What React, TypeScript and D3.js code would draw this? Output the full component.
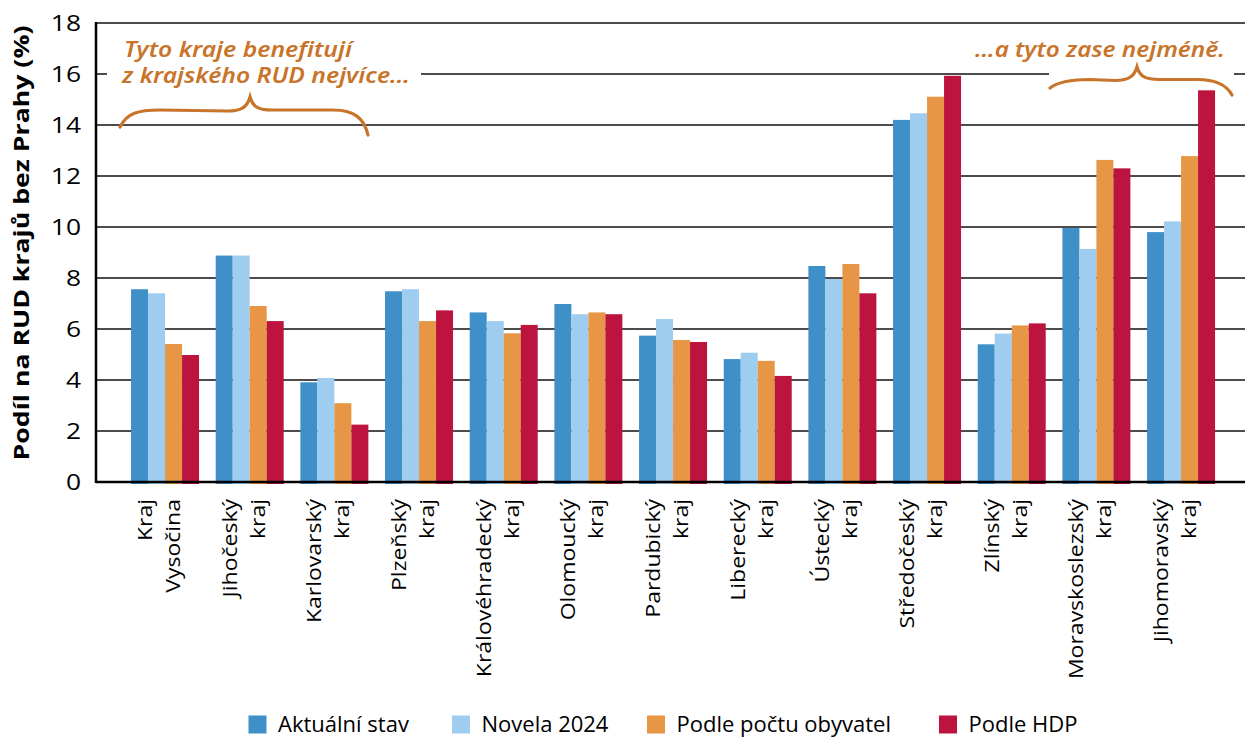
import React from "react";
import * as d3 from "d3";

const categories = [
  "Kraj|Vysočina",
  "Jihočeský|kraj",
  "Karlovarský|kraj",
  "Plzeňský|kraj",
  "Královéhradecký|kraj",
  "Olomoucký|kraj",
  "Pardubický|kraj",
  "Liberecký|kraj",
  "Ústecký|kraj",
  "Středočeský|kraj",
  "Zlínský|kraj",
  "Moravskoslezský|kraj",
  "Jihomoravský|kraj",
];

const seriesNames = ["Aktuální stav", "Novela 2024", "Podle počtu obyvatel", "Podle HDP"];
const aktualniStav = [7.56, 8.88, 3.91, 7.48, 6.65, 6.98, 5.74, 4.82, 8.47, 14.2, 5.4, 9.96, 9.8];
const novela2024 = [7.4, 8.88, 4.08, 7.56, 6.31, 6.58, 6.39, 5.07, 7.96, 14.46, 5.82, 9.14, 10.22];
const podleObyvatel = [5.41, 6.9, 3.09, 6.31, 5.83, 6.65, 5.57, 4.75, 8.55, 15.11, 6.14, 12.63, 12.78];
const podleHDP = [4.98, 6.31, 2.25, 6.73, 6.16, 6.58, 5.49, 4.16, 7.4, 15.93, 6.22, 12.3, 15.36];
const seriesValues = [aktualniStav, novela2024, podleObyvatel, podleHDP];
const seriesColors = ["#3f8fc8", "#9ecdef", "#e69645", "#bd143f"];
const yTicks = [0, 2, 4, 6, 8, 10, 12, 14, 16, 18];

const yTitle = "Podíl na RUD krajů bez Prahy (%)";
const noteLeft = ["Tyto kraje benefitují", "z krajského RUD nejvíce…"];
const noteRight = "…a tyto zase nejméně.";
const noteColor = "#c8742a";

const W = 1245;
const H = 737;
const plotLeft = 96;
const plotRight = 1245;

function brace(x0: number, y0: number, x1: number, y1: number, xt: number, yt: number, yb: number) {
  const p = d3.path();
  p.moveTo(x0, y0);
  p.bezierCurveTo(x0 + 7, yb + 3, x0 + 18, yb, x0 + 40, yb);
  p.lineTo(xt - 22, yb + 1);
  p.bezierCurveTo(xt - 10, yb + 1, xt - 3, yb - 2, xt, yt);
  p.bezierCurveTo(xt + 3, yb - 2, xt + 10, yb, xt + 22, yb);
  p.lineTo(x1 - 35, yb);
  p.bezierCurveTo(x1 - 14, yb, x1 - 4, yb + 8, x1, y1);
  return p.toString();
}

export default function App() {
  const y = d3.scaleLinear().domain([0, 18]).range([482, 23]);
  const x = d3
    .scaleBand<string>()
    .domain(categories)
    .range([122.7, 1223.4])
    .paddingInner(0.197)
    .paddingOuter(0.0985);
  const xs = d3.scaleBand<string>().domain(seriesNames).range([0, x.bandwidth()]);

  return (
    <svg
      width={W}
      height={H}
      style={{ position: "absolute", left: 0, top: 0, background: "#fff" }}
      fontFamily="'Open Sans', sans-serif"
    >
      <rect x={0} y={0} width={W} height={H} fill="#fff" />
      {/* gridlines */}
      {yTicks.slice(1).map((t) => (
        <line key={t} x1={plotLeft} x2={plotRight} y1={y(t)} y2={y(t)} stroke="#111" strokeWidth={1.4} />
      ))}
      {/* white boxes behind annotations */}
      <rect x={107} y={62} width={314} height={24} fill="#fff" />
      <rect x={1049} y={64} width={185} height={22} fill="#fff" />
      {/* bars */}
      {categories.map((c, i) => (
        <g key={c} transform={`translate(${x(c)},0)`}>
          {seriesNames.map((s, j) => {
            const v = seriesValues[j][i];
            return (
              <rect
                key={s}
                x={xs(s)}
                y={y(v)}
                width={xs.bandwidth()}
                height={y(0) - y(v) + 2}
                fill={seriesColors[j]}
              />
            );
          })}
        </g>
      ))}
      {/* axes */}
      <line x1={plotLeft} x2={plotLeft} y1={y(18) - 1} y2={y(0) + 1} stroke="#000" strokeWidth={2.5} />
      <line x1={plotLeft} x2={plotRight} y1={y(0)} y2={y(0)} stroke="#000" strokeWidth={2.5} />
      {/* y tick labels */}
      {yTicks.map((t) => (
        <text
          key={t}
          transform={`translate(81,${y(t) + 8}) scale(1.2,1)`}
          textAnchor="end"
          fontSize={22}
          fill="#000"
        >
          {t}
        </text>
      ))}
      {/* y title */}
      <text
        transform={`translate(29,${243}) rotate(-90) scale(1.27,1)`}
        textAnchor="middle"
        fontSize={21}
        fontWeight="bold"
        fill="#000"
      >
        {yTitle}
      </text>
      {/* x labels */}
      {categories.map((c) => {
        const cx = (x(c) as number) + x.bandwidth() / 2;
        const lines = c.split("|");
        return (
          <g key={c}>
            {lines.map((ln, k) => (
              <text
                key={k}
                transform={`translate(${cx - 13 + k * 28},499) rotate(-90) scale(1.18,1)`}
                textAnchor="end"
                fontSize={19.5}
                fill="#000"
              >
                {ln}
              </text>
            ))}
          </g>
        );
      })}
      {/* annotations */}
      <path d={brace(120, 127, 368, 135, 250, 97, 110)} fill="none" stroke={noteColor} strokeWidth={3.2} strokeLinecap="round" />
      <path d={brace(1050, 88, 1232, 95, 1137, 67, 79.5)} fill="none" stroke={noteColor} strokeWidth={3.2} strokeLinecap="round" />
      <g fill={noteColor} fontFamily="'Noto Sans', sans-serif" fontStyle="italic" fontWeight={600} fontSize={21}>
        <text x={124} y={57} textLength={228} lengthAdjust="spacingAndGlyphs">{noteLeft[0]}</text>
        <text x={122} y={83} textLength={288} lengthAdjust="spacingAndGlyphs">{noteLeft[1]}</text>
        <text x={975} y={57} textLength={250} lengthAdjust="spacingAndGlyphs">{noteRight}</text>
      </g>
      {/* legend */}
      {seriesNames.map((s, j) => {
        const lx = [248.5, 452, 647, 939][j];
        return (
          <g key={s}>
            <rect x={lx} y={715.5} width={18} height={18} fill={seriesColors[j]} />
            <text x={lx + 29.5} y={732} fontSize={22} fill="#000">
              {s}
            </text>
          </g>
        );
      })}
    </svg>
  );
}
